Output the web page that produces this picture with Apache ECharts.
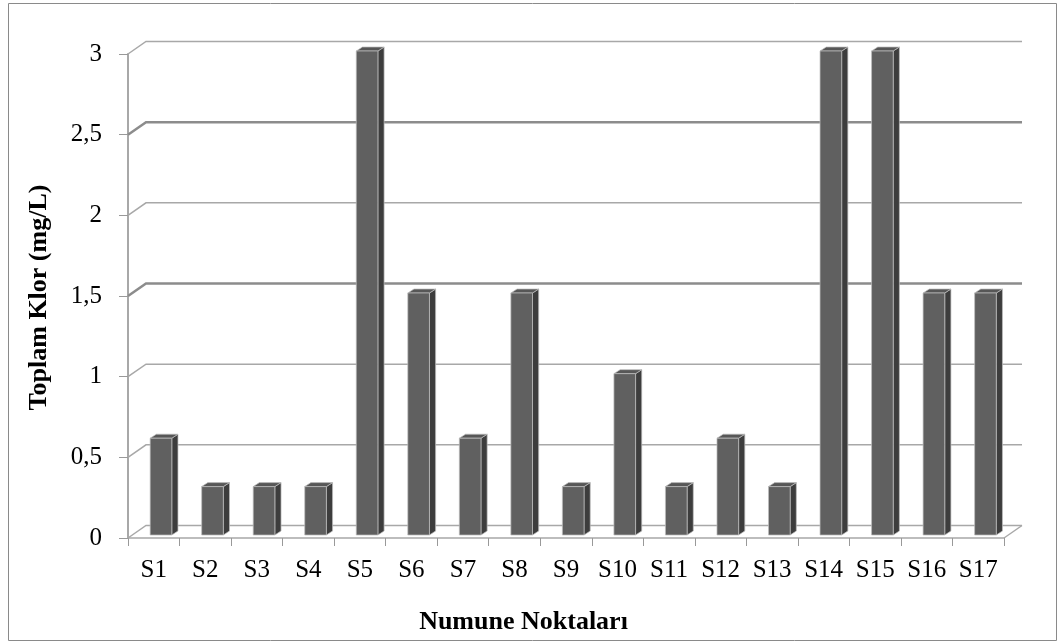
<!DOCTYPE html>
<html>
<head>
<meta charset="utf-8">
<script src="https://cdn.jsdelivr.net/npm/echarts@6/dist/echarts.min.js"></script>
<style>html,body{margin:0;padding:0;background:#fff;}#c{width:1060px;height:643px;}</style>
</head>
<body>
<div id="c"></div>
<script>
const categories = ['S1','S2','S3','S4','S5','S6','S7','S8','S9','S10','S11','S12','S13','S14','S15','S16','S17'];
const values = [0.6,0.3,0.3,0.3,3,1.5,0.6,1.5,0.3,1.0,0.3,0.6,0.3,3,3,1.5,1.5];
const yTicks = [0,0.5,1,1.5,2,2.5,3];
const yTickLabels = ['0','0,5','1','1,5','2','2,5','3'];
const xTitle = 'Numune Noktaları';
const yTitle = 'Toplam Klor (mg/L)';

const FONT = 'Liberation Serif, Times New Roman, serif';
const DX = 18, DY = -12.5;
const GRID_COLOR = '#a8a8a8';

const chart = echarts.init(document.getElementById('c'));
chart.setOption({
  animation: false,
  backgroundColor: '#fff',
  grid: { left: 128, right: 56, top: 54, bottom: 105 },
  xAxis: {
    type: 'category',
    data: categories,
    boundaryGap: true,
    axisLine: { show: true, lineStyle: { color: GRID_COLOR, width: 1.5 } },
    axisTick: { show: true, length: 8, lineStyle: { color: '#999', width: 1 } },
    axisLabel: { color: '#000', fontFamily: FONT, fontSize: 25, margin: 20 },
    splitLine: { show: false }
  },
  yAxis: {
    type: 'value',
    min: 0, max: 3, interval: 0.5,
    axisLine: { show: true, lineStyle: { color: GRID_COLOR, width: 2 } },
    axisTick: { show: true, length: 9, lineStyle: { color: '#999', width: 1 } },
    axisLabel: {
      color: '#000', fontFamily: FONT, fontSize: 25, margin: 26,
      formatter: function (v) { const i = yTicks.indexOf(v); return i >= 0 ? yTickLabels[i] : ''; }
    },
    splitLine: { show: false }
  },
  graphic: [
    { type: 'rect', shape: { x: 8.5, y: 3.5, width: 1048, height: 637 }, style: { fill: 'none', stroke: '#8a8a8a', lineWidth: 1 }, z: -10 },
    { type: 'text', x: 523.5, y: 622, style: { text: xTitle, font: 'bold 26px ' + FONT, fill: '#000', textAlign: 'center', textVerticalAlign: 'middle' } },
    { type: 'text', x: 39, y: 297.5, rotation: Math.PI / 2, style: { text: yTitle, font: 'bold 26px ' + FONT, fill: '#000', textAlign: 'center', textVerticalAlign: 'middle' } }
  ],
  series: [
    {
      type: 'custom',
      clip: false,
      z: 1,
      silent: true,
      data: yTicks.map(v => [0, v]),
      encode: { x: 0, y: 1 },
      renderItem: function (params, api) {
        const cs = params.coordSys;
        const v = api.value(1);
        const y = api.coord([0, v])[1];
        const x0 = cs.x, x1 = cs.x + cs.width;
        const dark = (v === 1.5 || v === 2.5);
        const children = [{
          type: 'polyline',
          shape: { points: [[x0, y], [x0 + DX, y + DY], [x1 + DX, y + DY]] },
          style: { fill: 'none', stroke: dark ? '#8c8c8c' : GRID_COLOR, lineWidth: dark ? 2.5 : 1.5 }
        }];
        if (v === 0) {
          children.push({ type: 'line', shape: { x1: x1, y1: y, x2: x1 + DX, y2: y + DY }, style: { stroke: GRID_COLOR, lineWidth: 1.5 } });
        }
        return { type: 'group', children: children };
      }
    },
    {
      type: 'custom',
      clip: false,
      z: 3,
      data: values.map((v, i) => [i, v]),
      encode: { x: 0, y: 1 },
      renderItem: function (params, api) {
        const i = api.value(0), v = api.value(1);
        const top = api.coord([i, v]);
        const base = api.coord([i, 0]);
        const bw = api.size([1, 0])[0];
        const cx = top[0];
        const fl = cx - bw * 0.07, fr = cx + bw * 0.35;
        const sd = bw * 0.12, td = 4;
        const yt = top[1] - 3, yb = base[1] - 3;
        const stroke = 'rgba(190,190,190,0.9)';
        return {
          type: 'group',
          children: [
            { type: 'polygon', shape: { points: [[fr, yt], [fr + sd, yt - td], [fr + sd, yb - td], [fr, yb]] }, style: { fill: '#3d3d3d', stroke: stroke, lineWidth: 0.8 } },
            { type: 'polygon', shape: { points: [[fl, yt], [fl + sd, yt - td], [fr + sd, yt - td], [fr, yt]] }, style: { fill: '#575757', stroke: stroke, lineWidth: 0.8 } },
            { type: 'rect', shape: { x: fl, y: yt, width: fr - fl, height: yb - yt }, style: { fill: '#606060', stroke: stroke, lineWidth: 0.8 } }
          ]
        };
      }
    }
  ]
});
</script>
</body>
</html>
